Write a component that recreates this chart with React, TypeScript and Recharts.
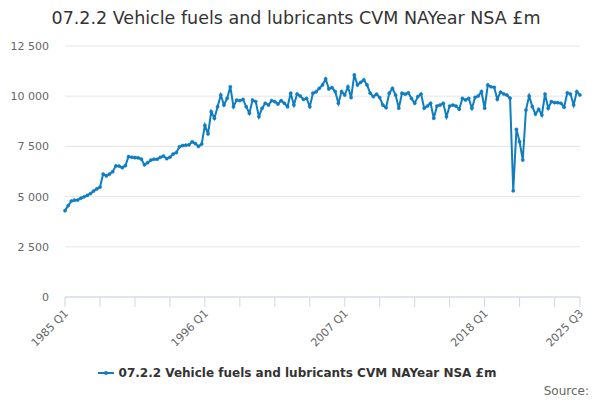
import React from "react";
import { LineChart, Line, XAxis, YAxis, CartesianGrid } from "recharts";

const seriesName = "07.2.2 Vehicle fuels and lubricants CVM NAYear NSA £m";
const startYear = 1985;

// Quarterly values, 1985 Q1 .. 1994 Q4
const values1985to1994 = [
  4300, 4550, 4780, 4820, 4830, 4920, 4990, 5060, 5150, 5280,
  5380, 5470, 6120, 6030, 6120, 6240, 6530, 6520, 6440, 6540,
  6990, 6960, 6940, 6930, 6870, 6580, 6690, 6820, 6860, 6860,
  6960, 7020, 6890, 6960, 7120, 7190, 7480, 7540, 7560, 7580,
];
// 1995 Q1 .. 2004 Q4
const values1995to2004 = [
  7730, 7640, 7500, 7620, 8550, 8120, 9230, 8900, 9480, 10060,
  9560, 9890, 10470, 9480, 9810, 9780, 9840, 9480, 9150, 9810,
  9730, 8980, 9400, 9650, 9560, 9780, 9730, 9610, 9780, 9650,
  9480, 10150, 9560, 10110, 10010, 9840, 9890, 9480, 10150, 10220,
];
// 2005 Q1 .. 2014 Q4
const values2005to2014 = [
  10390, 10560, 10860, 10360, 10430, 10230, 9650, 10230, 10060, 10470,
  9930, 11060, 10560, 10690, 10810, 10560, 10150, 9980, 10100, 9930,
  9560, 9430, 10150, 10390, 10060, 9400, 10150, 10100, 10170, 9890,
  9650, 9980, 10110, 9400, 9510, 9650, 8900, 9510, 9560, 9650,
];
// 2015 Q1 .. 2025 Q3
const values2015to2025 = [
  8980, 9510, 9560, 9510, 9350, 9890, 9810, 9890, 9400, 9940,
  10010, 10230, 9400, 10560, 10470, 10440, 9850, 10200, 10110, 10060,
  9900, 5290, 8350, 7730, 6820, 9310, 10010, 9480, 9110, 9350,
  9060, 10110, 9400, 9730, 9680, 9680, 9650, 9450, 10170, 10110,
  9560, 10230, 10060,
];

const values = [
  ...values1985to1994,
  ...values1995to2004,
  ...values2005to2014,
  ...values2015to2025,
];

const categories = values.map(
  (_, i) => `${startYear + Math.floor(i / 4)} Q${(i % 4) + 1}`
);

const xTickIndices = [0, 11, 22, 33, 44, 55, 66, 77, 88, 99, 110, 121, 132, 143, 154, 162];
const labeledTickIndices = [0, 44, 88, 132, 162];
const yTicks = [0, 2500, 5000, 7500, 10000, 12500];

const data = values.map((v, i) => ({ i, label: categories[i], v }));

const LINE_COLOR = "#0f7dc2";
const FONT = "'DejaVu Sans', sans-serif";

const fmt = (n: number) => String(n).replace(/\B(?=(\d{3})+(?!\d))/g, " ");

const XTick = (props: any) => {
  const { x, payload } = props;
  const idx = payload.value as number;
  const text = labeledTickIndices.includes(idx) ? categories[idx] : "";
  return (
    <g transform={`translate(${x + 4},${314})`}>
      <text
        x={0}
        y={0}
        textAnchor="end"
        transform="rotate(-45)"
        fill="#666666"
        fontSize={11}
        fontFamily={FONT}
      >
        {text}
      </text>
    </g>
  );
};

export default function App() {
  return (
    <div
      style={{
        position: "absolute",
        left: 0,
        top: 0,
        width: 600,
        height: 400,
        background: "#ffffff",
        fontFamily: FONT,
      }}
    >
      <div
        style={{
          position: "absolute",
          top: 6,
          left: -4,
          width: 600,
          textAlign: "center",
          fontSize: 17.5,
          color: "#333333",
          lineHeight: "24px",
        }}
      >
        {seriesName}
      </div>
      <LineChart
        width={600}
        height={400}
        data={data}
        margin={{ top: 46, right: 20, bottom: 0, left: 0 }}
      >
        <CartesianGrid vertical={false} stroke="#e6e6e6" />
        <XAxis
          type="number"
          dataKey="i"
          domain={[0, 162]}
          ticks={xTickIndices}
          interval={0}
          height={103}
          stroke="#ccd6eb"
          tickSize={10}
          tickLine={{ stroke: "#ccd6eb" }}
          axisLine={{ stroke: "#ccd6eb" }}
          tick={XTick}
        />
        <YAxis
          width={65}
          domain={[0, 12500]}
          ticks={yTicks}
          axisLine={false}
          tickLine={false}
          tickSize={0}
          tickMargin={16}
          tickFormatter={fmt}
          tick={{ fill: "#666666", fontSize: 11, fontFamily: FONT }}
        />
        <Line
          type="linear"
          dataKey="v"
          stroke={LINE_COLOR}
          strokeWidth={2}
          dot={{ r: 1.6, fill: LINE_COLOR, stroke: LINE_COLOR, strokeWidth: 0.5 }}
          activeDot={false}
          isAnimationActive={false}
        />
      </LineChart>
      <div
        style={{
          position: "absolute",
          top: 366,
          left: -4,
          width: 600,
          display: "flex",
          justifyContent: "center",
          alignItems: "center",
        }}
      >
        <svg width={20} height={14} style={{ marginRight: 3 }}>
          <line x1={2} y1={7} x2={18} y2={7} stroke={LINE_COLOR} strokeWidth={2} />
          <circle cx={10} cy={7} r={2} fill={LINE_COLOR} />
        </svg>
        <span style={{ fontSize: 12, fontWeight: "bold", color: "#333333" }}>
          {seriesName}
        </span>
      </div>
      <div
        style={{
          position: "absolute",
          top: 384,
          right: 11,
          fontSize: 12,
          color: "#666666",
        }}
      >
        Source:
      </div>
    </div>
  );
}
